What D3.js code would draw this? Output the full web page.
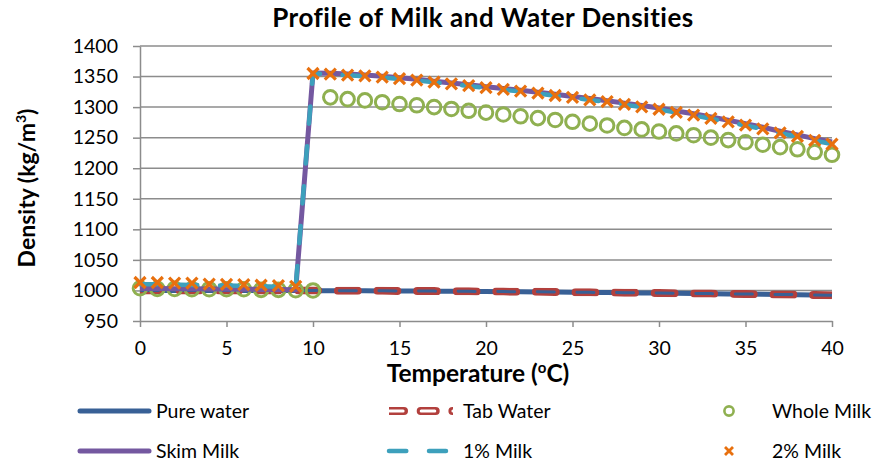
<!DOCTYPE html>
<html>
<head>
<meta charset="utf-8">
<script src="https://cdn.jsdelivr.net/npm/d3@7"></script>
<style>
  html, body { margin: 0; padding: 0; background: #fff; }
  svg { display: block; font-family: Lato, "Open Sans", sans-serif; }
</style>
</head>
<body>
<svg id="chart" width="873" height="463"></svg>
<script>
// Temperature readings (°C)
const temperatures = [0, 1, 2, 3, 4, 5, 6, 7, 8, 9, 10, 11, 12, 13, 14, 15, 16, 17, 18, 19, 20,
  21, 22, 23, 24, 25, 26, 27, 28, 29, 30, 31, 32, 33, 34, 35, 36, 37, 38, 39, 40];

// Densities (kg/m³) per sample
const pureWater = [999.84, 999.90, 999.94, 999.96, 999.97, 999.96, 999.94, 999.90, 999.85, 999.78,
  999.70, 999.61, 999.50, 999.38, 999.24, 999.10, 998.94, 998.77, 998.60, 998.40, 998.21,
  997.99, 997.77, 997.54, 997.30, 997.05, 996.79, 996.52, 996.24, 995.95, 995.65,
  995.34, 995.03, 994.70, 994.37, 994.03, 993.68, 993.33, 992.97, 992.60, 992.22];
const tabWater = [1000.0, 1000.1, 1000.1, 1000.1, 1000.1, 1000.1, 1000.1, 1000.0, 1000.0, 999.9,
  999.8, 999.7, 999.6, 999.5, 999.4, 999.2, 999.1, 998.9, 998.7, 998.5, 998.3,
  998.1, 997.9, 997.7, 997.4, 997.2, 996.9, 996.6, 996.4, 996.1, 995.8,
  995.5, 995.1, 994.8, 994.5, 994.1, 993.8, 993.4, 993.1, 992.7, 992.3];
const wholeMilk = [1003.6, 1002.5, 1002.5, 1002.0, 1002.0, 1002.0, 1002.0, 1001.0, 1001.0, 1000.5,
  1000.0, 1316, 1313, 1311, 1308, 1305, 1303, 1300, 1297, 1294, 1291,
  1288, 1285, 1282, 1279, 1276, 1273, 1270, 1266, 1263.5, 1260,
  1257, 1254, 1250, 1246, 1242.5, 1238.5, 1234.5, 1231, 1226.5, 1222];
const skimMilk = [1003.0, 1003.0, 1002.8, 1002.6, 1002.4, 1002.2, 1002.0, 1001.7, 1001.4, 1001.0,
  1356, 1355.5, 1354, 1352.5, 1350.5, 1348, 1345.5, 1342.5, 1339.5, 1336.5, 1333.5,
  1330.5, 1327.5, 1324.5, 1321, 1317.5, 1314, 1310.5, 1306.5, 1302.5, 1298.5,
  1293.5, 1289, 1284, 1278.5, 1273, 1267, 1260.5, 1254.5, 1248.5, 1243];
const onePctMilk = [1010.0, 1010.0, 1009.5, 1009.0, 1008.5, 1008.0, 1007.5, 1007.0, 1006.0, 1005.0,
  1355, 1353.5, 1352, 1350.5, 1348.5, 1346, 1343.5, 1340.5, 1337.5, 1334.5, 1331.5,
  1328.5, 1325.5, 1322.5, 1318.5, 1315.5, 1311.5, 1308.5, 1304, 1300, 1296,
  1291, 1286.5, 1281, 1275.5, 1270, 1264, 1257.5, 1251.5, 1245, 1239.5];
const twoPctMilk = [1013.0, 1013.0, 1012.0, 1012.0, 1010.5, 1010.0, 1009.5, 1008.5, 1008.0, 1006.5,
  1355, 1354, 1352.5, 1351, 1349, 1346.5, 1344, 1341, 1338, 1335, 1332,
  1329, 1326, 1323, 1319, 1316, 1312, 1309, 1304.5, 1300.5, 1296.5,
  1291.5, 1287, 1281.5, 1276, 1270.5, 1264.5, 1258, 1252, 1245.5, 1239.5];

// Axis ticks
const xTickValues = [0, 5, 10, 15, 20, 25, 30, 35, 40];
const yTickValues = [950, 1000, 1050, 1100, 1150, 1200, 1250, 1300, 1350, 1400];

// Series labels
const seriesNames = ["Pure water", "Tab Water", "Whole Milk", "Skim Milk", "1% Milk", "2% Milk"];

const colors = {
  pure: "#386096",
  tab: "#B2403D",
  whole: "#8FB050",
  skim: "#7458A0",
  one: "#3DA0BC",
  two: "#E8700E",
  grid: "#8C8C8C"
};

const svg = d3.select("#chart");
const plot = { left: 140, right: 832, top: 46, bottom: 321 };

const x = d3.scaleLinear().domain([0, 40]).range([plot.left, plot.right]);
const y = d3.scaleLinear().domain([950, 1400]).range([plot.bottom, plot.top]);

// Horizontal gridlines
svg.append("g")
  .selectAll("line")
  .data(yTickValues.filter(v => v > 950))
  .join("line")
  .attr("x1", plot.left).attr("x2", plot.right)
  .attr("y1", d => y(d)).attr("y2", d => y(d))
  .attr("stroke", colors.grid).attr("stroke-width", 1.5);

// Axes
const yAxis = svg.append("g")
  .attr("transform", `translate(${plot.left},0)`)
  .call(d3.axisLeft(y).tickValues(yTickValues).tickFormat(d3.format("d"))
    .tickSizeInner(7).tickSizeOuter(0).tickPadding(15));
const xAxis = svg.append("g")
  .attr("transform", `translate(0,${plot.bottom})`)
  .call(d3.axisBottom(x).tickValues(xTickValues).tickFormat(d3.format("d"))
    .tickSizeInner(6).tickSizeOuter(0).tickPadding(14));

[yAxis, xAxis].forEach(g => {
  g.select(".domain").attr("stroke", colors.grid).attr("stroke-width", 1.5);
  g.selectAll(".tick line").attr("stroke", colors.grid).attr("stroke-width", 1.5);
  g.selectAll(".tick text")
    .attr("fill", "#000")
    .style("font-family", "Lato, sans-serif")
    .style("font-size", "19.5px");
});

// Tab Water dashes are hollow rings: a mask cuts the inner dash out of the outer one.
const defs = svg.append("defs");
function hollowDashMask(id, pathD, outer, inner) {
  const m = defs.append("mask")
    .attr("id", id)
    .attr("maskUnits", "userSpaceOnUse")
    .attr("x", 0).attr("y", 0).attr("width", 873).attr("height", 463);
  m.append("path").attr("d", pathD).attr("fill", "none")
    .attr("stroke", "#fff").attr("stroke-width", outer.width)
    .attr("stroke-linecap", "round").attr("stroke-dasharray", outer.dash);
  m.append("path").attr("d", pathD).attr("fill", "none")
    .attr("stroke", "#000").attr("stroke-width", inner.width)
    .attr("stroke-linecap", "round").attr("stroke-dasharray", inner.dash)
    .attr("stroke-dashoffset", inner.offset);
}

const seriesLine = vals => d3.line()
  .x((d, i) => x(temperatures[i]))
  .y(d => y(d))(vals);

const plotLayer = svg.append("g");

// Pure water
plotLayer.append("path")
  .attr("d", seriesLine(pureWater))
  .attr("fill", "none").attr("stroke", colors.pure).attr("stroke-width", 5)
  .attr("stroke-linejoin", "round");

// Tab Water
const tabPath = seriesLine(tabWater);
hollowDashMask("tab-mask", tabPath,
  { width: 8, dash: "19.7 19.9" },
  { width: 3, dash: "17 22.6", offset: 38.25 });
plotLayer.append("path")
  .attr("d", tabPath)
  .attr("fill", "none").attr("stroke", colors.tab).attr("stroke-width", 8)
  .attr("mask", "url(#tab-mask)");

// Whole Milk (markers only)
plotLayer.append("g")
  .selectAll("circle")
  .data(wholeMilk)
  .join("circle")
  .attr("cx", (d, i) => x(temperatures[i]))
  .attr("cy", d => y(d))
  .attr("r", 6.8)
  .attr("fill", "none").attr("stroke", colors.whole).attr("stroke-width", 3);

// Skim Milk
plotLayer.append("path")
  .attr("d", seriesLine(skimMilk))
  .attr("fill", "none").attr("stroke", colors.skim).attr("stroke-width", 5)
  .attr("stroke-linejoin", "round");

// 1% Milk
plotLayer.append("path")
  .attr("d", seriesLine(onePctMilk))
  .attr("fill", "none").attr("stroke", colors.one).attr("stroke-width", 4.5)
  .attr("stroke-linecap", "round").attr("stroke-linejoin", "round")
  .attr("stroke-dasharray", "17.3 22.7");

// 2% Milk (markers only)
const cross = (cx, cy, s) => `M${cx - s},${cy - s}L${cx + s},${cy + s}M${cx - s},${cy + s}L${cx + s},${cy - s}`;
plotLayer.append("g")
  .selectAll("path")
  .data(twoPctMilk)
  .join("path")
  .attr("d", (d, i) => cross(x(temperatures[i]), y(d), 5.5))
  .attr("fill", "none").attr("stroke", colors.two).attr("stroke-width", 3.2);

// Titles
svg.append("text")
  .attr("x", 483).attr("y", 27)
  .attr("text-anchor", "middle")
  .style("font-size", "26px").style("font-weight", "bold")
  .style("letter-spacing", "0.5px")
  .text("Profile of Milk and Water Densities");

const xTitle = svg.append("text")
  .attr("x", 478).attr("y", 382)
  .attr("text-anchor", "middle")
  .style("font-size", "24.5px").style("font-weight", "bold");
xTitle.append("tspan").text("Temperature (");
xTitle.append("tspan").attr("dy", -9).style("font-size", "15px").text("o");
xTitle.append("tspan").attr("dy", 9).text("C)");

const yTitle = svg.append("text")
  .attr("transform", "translate(35,188) rotate(-90)")
  .attr("text-anchor", "middle")
  .style("font-size", "23px").style("font-weight", "bold");
yTitle.append("tspan").text("Density (kg/m");
yTitle.append("tspan").attr("dy", -9).style("font-size", "14px").text("3");
yTitle.append("tspan").attr("dy", 9).text(")");

// Legend
const legend = svg.append("g").style("font-size", "19.5px");
const row1 = 411, row2 = 451;

function legendText(tx, ty, label) {
  legend.append("text").attr("x", tx).attr("y", ty).attr("dy", "0.35em").text(label);
}

// Pure water
legend.append("line").attr("x1", 80).attr("x2", 149).attr("y1", row1).attr("y2", row1)
  .attr("stroke", colors.pure).attr("stroke-width", 5).attr("stroke-linecap", "round");
legendText(156, row1, seriesNames[0]);

// Tab Water
const legTab = `M389,${row1}L453,${row1}`;
hollowDashMask("tab-leg-mask", legTab,
  { width: 8, dash: "15 16.7" },
  { width: 3, dash: "13.6 18.1", offset: 31.2 });
legend.append("path").attr("d", legTab).attr("stroke", colors.tab).attr("stroke-width", 8)
  .attr("fill", "none").attr("mask", "url(#tab-leg-mask)");
legendText(463, row1, seriesNames[1]);

// Whole Milk
legend.append("circle").attr("cx", 729).attr("cy", row1).attr("r", 4.6)
  .attr("fill", "none").attr("stroke", colors.whole).attr("stroke-width", 2.6);
legendText(772, row1, seriesNames[2]);

// Skim Milk
legend.append("line").attr("x1", 80).attr("x2", 149).attr("y1", row2).attr("y2", row2)
  .attr("stroke", colors.skim).attr("stroke-width", 5).attr("stroke-linecap", "round");
legendText(156, row2, seriesNames[3]);

// 1% Milk
legend.append("line").attr("x1", 389).attr("x2", 446).attr("y1", row2).attr("y2", row2)
  .attr("stroke", colors.one).attr("stroke-width", 4.5).attr("stroke-linecap", "round")
  .attr("stroke-dasharray", "17.3 22.7");
legendText(463, row2, seriesNames[4]);

// 2% Milk
legend.append("path").attr("d", cross(729, row2, 4))
  .attr("stroke", colors.two).attr("stroke-width", 2.8).attr("fill", "none");
legendText(772, row2, seriesNames[5]);
</script>
</body>
</html>
